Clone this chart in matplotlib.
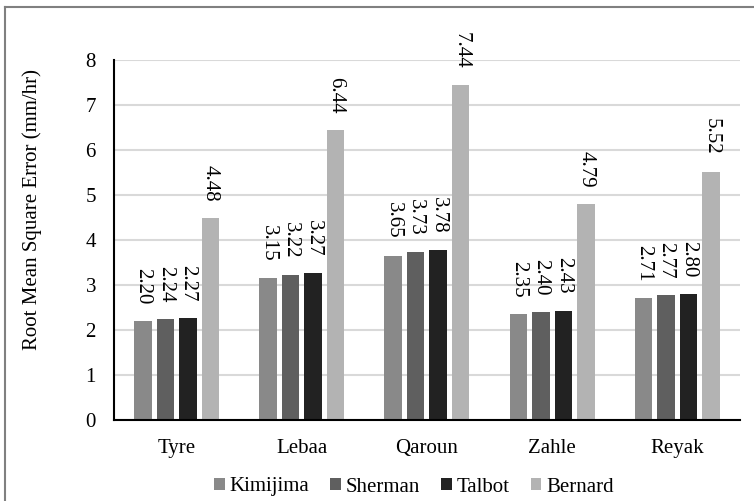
import matplotlib.pyplot as plt
import numpy as np
from matplotlib.lines import Line2D

plt.rcParams['font.family'] = ['Liberation Serif', 'DejaVu Serif']

stations = ["Tyre", "Lebaa", "Qaroun", "Zahle", "Reyak"]
methods = ["Kimijima", "Sherman", "Talbot", "Bernard"]
kimijima = [2.20, 3.15, 3.65, 2.35, 2.71]
sherman = [2.24, 3.22, 3.73, 2.40, 2.77]
talbot = [2.27, 3.27, 3.78, 2.43, 2.80]
bernard = [4.48, 6.44, 7.44, 4.79, 5.52]
colors = ["#898989", "#5f5f5f", "#222222", "#b3b3b3"]

fig = plt.figure(figsize=(7.54, 5.01), dpi=100)
ax = fig.add_axes([0.1512, 0.1617, 0.830, 0.7186])

x = np.arange(len(stations))
width = 0.14
pitch = 0.18
series = [kimijima, sherman, talbot, bernard]
for i, (name, vals, c) in enumerate(zip(methods, series, colors)):
    pos = x + (i - 1.5) * pitch
    bars = ax.bar(pos, vals, width, color=c, label=name, zorder=3)
    # value labels written top-to-bottom above each bar
    for b, v in zip(bars, vals):
        ax.annotate(f"{v:.2f}", (b.get_x() + b.get_width() / 2, v),
                    xytext=(0, 12), textcoords="offset points",
                    rotation=-90, ha="center", va="bottom", fontsize=15)

ax.set_ylim(0, 8)
ax.set_xlim(-0.5, 4.5)
ax.set_yticks(range(0, 9))
ax.set_xticks(x)
ax.set_xticklabels(stations)
ax.tick_params(axis="both", length=0, labelsize=15)
ax.tick_params(axis="y", pad=13)
ax.tick_params(axis="x", pad=14)
ax.yaxis.grid(True, color="#d9d9d9", linewidth=1.5, zorder=0)
ax.set_axisbelow(True)
for s in ["top", "right"]:
    ax.spines[s].set_visible(False)
for s in ["left", "bottom"]:
    ax.spines[s].set_linewidth(1.5)
    ax.spines[s].set_zorder(4)

fig.text(32 / 754, 1 - 210 / 501, "Root Mean Square Error (mm/hr)", fontsize=15,
         rotation=90, ha="center", va="center")

fig.legend(*ax.get_legend_handles_labels(), ncol=4, loc="center",
           bbox_to_anchor=(414 / 754, 1 - 487 / 501), frameon=False,
           fontsize=15, handlelength=0.5, handleheight=0.5, handletextpad=0.25,
           columnspacing=1.0, borderpad=0)

# outer frame along the top and left edges
fig.add_artist(Line2D([5 / 754, 5 / 754], [0, 1 - 7 / 501], color="#808080", linewidth=1.5,
                      transform=fig.transFigure))
fig.add_artist(Line2D([5 / 754, 1], [1 - 7 / 501, 1 - 7 / 501], color="#808080", linewidth=1.5,
                      transform=fig.transFigure))

fig.savefig("out.png", dpi=100)
